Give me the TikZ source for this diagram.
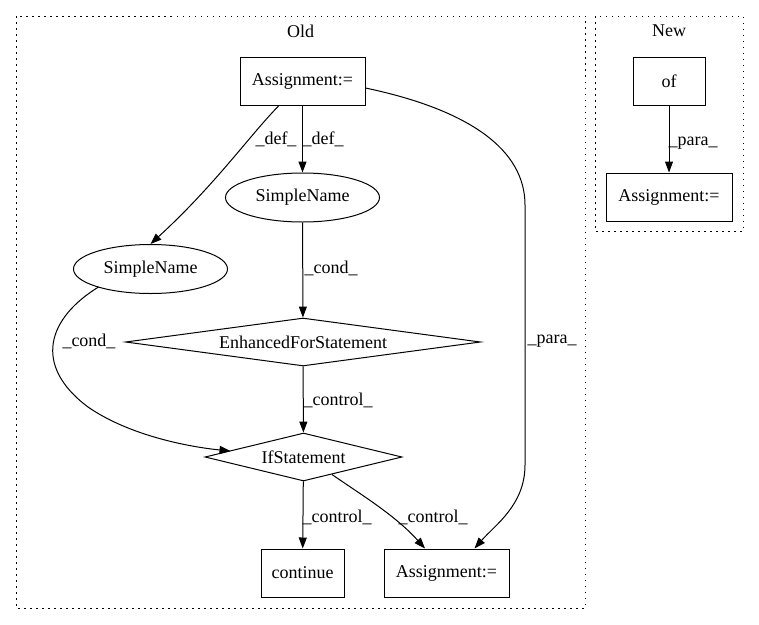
\documentclass[tikz,border=0pt]{standalone}
\usepackage{fontspec}
\setmainfont{Liberation Serif}
\usetikzlibrary{arrows.meta,shapes.geometric,calc}
\begin{document}
\begin{tikzpicture}[x=1pt,y=-1pt,
  every node/.style={font=\fontsize{18}{20}\selectfont},
  box/.style={draw, line width=1pt, rectangle, inner sep=0pt, minimum height=48pt},
  oval/.style={draw, line width=1pt, ellipse, inner sep=0pt, minimum width=154pt, minimum height=49pt},
  dia/.style={draw, line width=1pt, diamond, inner sep=0pt, minimum height=48pt},
  edge/.style={draw, line width=1pt, -{Triangle[length=11pt,width=8pt]}},
  lbl/.style={inner sep=0pt},
  cluster/.style={draw, line width=1pt, dash pattern=on 1.5pt off 4.5pt}]
\useasboundingbox (0,0) rectangle (759,624);
% clusters
\draw[cluster] (16,16) rectangle (585,608);
\draw[cluster] (595,16) rectangle (743,231);
\node[lbl] (oldlbl) at (300.5,31) {Old};
\node[lbl] (newlbl) at (669,31) {New};
% nodes
\node[box, minimum width=125pt] (a1) at (302.5,81) {Assignment:=};
\node[oval] (sn1) at (302.5,197.5) {SimpleName};
\node[oval] (sn2) at (150.5,269) {SimpleName};
\node[dia, aspect=7.4, minimum width=355pt] (ef) at (303,342) {EnhancedForStatement};
\node[dia, aspect=4.1, minimum width=197pt] (ifs) at (303.5,457) {IfStatement};
\node[box, minimum width=83pt] (cont) at (302.5,573) {continue};
\node[box, minimum width=125pt] (a2) at (446.5,573) {Assignment:=};
\node[box, minimum width=72pt] (of) at (669,81) {of};
\node[box, minimum width=126pt] (a3) at (669,197) {Assignment:=};
% edges
\draw[edge] (a1) -- (sn1);
\node[lbl] (l1) at (276,139) {\_def\_};
\node[lbl] (l2) at (323,139) {\_def\_};
\draw[edge] ($(a1.south)+(-23.5,0)$) .. controls (250,135) and (215,185) .. (sn2.north);
\draw[edge] ($(a1.east)+(0,7)$) .. controls (470,110) and (525,150) .. (525,205) -- (525,465) .. controls (525,505) and (495,525) .. ($(a2.north)+(28,0)$);
\node[lbl] (l3) at (552,341) {\_para\_};
\draw[edge] (sn1) -- (ef);
\node[lbl] (l4) at (331,268) {\_cond\_};
\draw[edge] ($(sn2)+(-52,18)$) .. controls (48,318) and (32,365) .. (88,407) .. controls (130,436) and (190,447) .. ($(ifs.west)+(26,-6)$);
\node[lbl] (l5) at (89,341) {\_cond\_};
\draw[edge] (ef) -- (ifs);
\node[lbl] (l6) at (338,400) {\_control\_};
\draw[edge] (ifs) -- (cont);
\node[lbl] (l7) at (337,517) {\_control\_};
\draw[edge] ($(ifs.south)+(28.5,-7)$) .. controls (360,494) and (395,515) .. ($(a2.north)+(-21.5,0)$);
\node[lbl] (l8) at (433,517) {\_control\_};
\draw[edge] (of) -- (a3);
\node[lbl] (l9) at (693,143) {\_para\_};
\end{tikzpicture}
\end{document}
